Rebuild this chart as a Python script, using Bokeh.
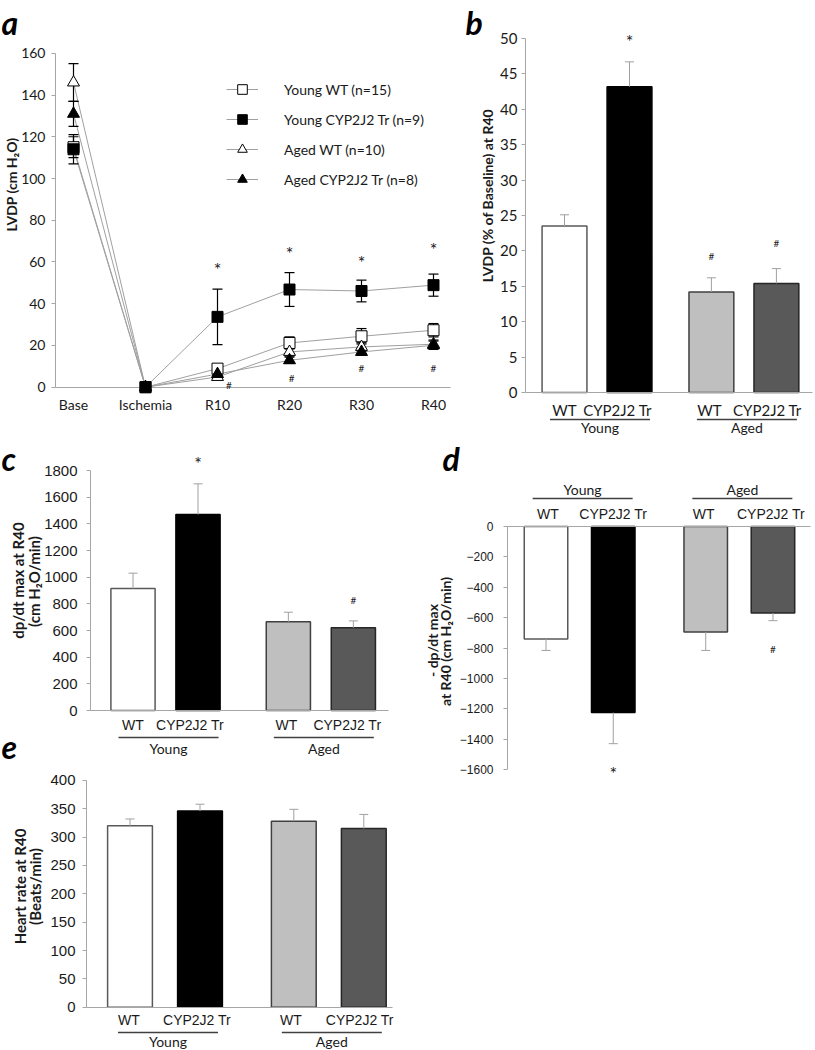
import math
from bokeh.plotting import figure
from bokeh.models import Range1d, FixedTicker, Legend, LegendItem
from bokeh.layouts import row, column
from bokeh.core.properties import value
from bokeh.embed import file_html
from bokeh.resources import INLINE

CAL = "Lato"
ARI = "Liberation Sans"
AX = "#a6a6a6"
INK = "#1a1a1a"
ERR = "#a0a0a0"

# ---------------- Panel a: LVDP time course ----------------
time_points = ["Base", "Ischemia", "R10", "R20", "R30", "R40"]
young_wt = [115, 0, 8.9, 21.2, 24.4, 27.3]
young_wt_err = [5, 0, 1.5, 2.9, 3.7, 3.2]
young_tr = [114, 0, 33.7, 46.8, 46.1, 48.9]
young_tr_err = [7, 0, 13.3, 8.1, 5.2, 5.3]
aged_wt = [146, 0, 4.9, 16.9, 19.3, 20.6]
aged_wt_err = [9, 0, 1.0, 2.0, 2.0, 2.0]
aged_tr = [131, 0, 6.3, 12.9, 16.9, 20.1]
aged_tr_err = [6, 0, 1.0, 1.5, 1.5, 2.0]
series_names = ["Young WT (n=15)", "Young CYP2J2 Tr (n=9)",
                "Aged WT (n=10)", "Aged CYP2J2 Tr (n=8)"]
a_star_y = [None, None, 56.4, 64.1, 60.0, 66.0]
a_hash_y = [None, None, 1.0, 4.2, 9.0, 9.0]
a_hash_dx = [0, 0, 0.16, 0.03, 0, 0]

# ---------------- Bar panels ----------------
genotypes = ["WT", "CYP2J2 Tr", "WT", "CYP2J2 Tr"]
age_groups = ["Young", "Aged"]
bar_fill = ["#ffffff", "#000000", "#bfbfbf", "#595959"]
bar_edge = ["#595959", "#000000", "#404040", "#262626"]

lvdp_pct = [23.5, 43.2, 14.2, 15.4]
lvdp_pct_err = [1.6, 3.5, 2.0, 2.1]
lvdp_pct_sig = ["", "*", "#", "#"]
lvdp_pct_sig_y = [None, 49.7, 19.3, 21.1]

dpdt_max = [915, 1470, 665, 620]
dpdt_max_err = [115, 230, 72, 52]
dpdt_max_sig = ["", "*", "", "#"]
dpdt_max_sig_y = [None, 1856, None, 830]

dpdt_min = [-740, -1225, -695, -570]
dpdt_min_err = [76, 205, 121, 50]
dpdt_min_sig = ["", "*", "", "#"]
dpdt_min_sig_y = [None, -1622, None, -805]

heart_rate = [320, 346, 328, 315]
heart_rate_err = [12, 12, 21, 25]


def make_panel(ox, oy, w, h, x0p, kx, y0p, ky):
    """Full-bleed figure: page pixel (x0p, y0p) is data (0, 0); kx, ky px per unit."""
    xr = Range1d((ox - x0p) / kx, (ox + w - x0p) / kx)
    yr = Range1d((y0p - (oy + h)) / ky, (y0p - oy) / ky)
    p = figure(width=w, height=h, x_range=xr, y_range=yr, min_border=0,
               toolbar_location=None, output_backend="svg", title=None)
    p.outline_line_color = None
    p.grid.visible = False
    p.background_fill_color = "white"
    p.border_fill_color = "white"
    return p, dict(x0p=x0p, kx=kx, y0p=y0p, ky=ky)


def X(m, px):
    return (px - m["x0p"]) / m["kx"]


def Y(m, py):
    return (m["y0p"] - py) / m["ky"]


def letter(p, m, txt, px, py_mid):
    p.text(x=[X(m, px)], y=[Y(m, py_mid)], text=[txt], text_font=value(CAL),
           text_font_style="bold italic", text_font_size="32px", text_color="black",
           text_baseline="middle", text_align="left")


def ytitle(p, m, lines):
    for txt, px, py, size in lines:
        p.text(x=[X(m, px)], y=[Y(m, py)], text=[txt], angle=math.pi / 2,
               text_font=value(CAL), text_font_style="bold", text_font_size=size,
               text_color=INK, text_align="center", text_baseline="middle")


def style_y(p, m, axis_px, ticks, bounds, font, size, lab_standoff, tick_out=4):
    ax = p.yaxis[0]
    ax.fixed_location = X(m, axis_px)
    ax.ticker = FixedTicker(ticks=ticks)
    ax.bounds = bounds
    ax.axis_line_color = AX
    ax.major_tick_line_color = AX
    ax.major_tick_out = tick_out
    ax.major_tick_in = 0
    ax.minor_tick_line_color = None
    ax.major_label_text_font = font
    ax.major_label_text_font_size = size
    ax.major_label_text_color = INK
    ax.major_label_standoff = lab_standoff


def style_x_bar(p, m, left_px, right_px):
    ax = p.xaxis[0]
    ax.fixed_location = 0
    ax.bounds = (X(m, left_px), X(m, right_px))
    ax.ticker = FixedTicker(ticks=[])
    ax.axis_line_color = AX
    ax.axis_line_width = 1
    ax.major_tick_line_color = None
    ax.minor_tick_line_color = None
    ax.major_label_text_font_size = "0px"


def bars(p, m, pos, vals, errs, width, sig, sig_y, lab_font, lab_size,
         sub_py, line_py, grp_py, lab_dx_px):
    p.vbar(x=pos, top=vals, bottom=0, width=width, fill_color=bar_fill,
           line_color=bar_edge, line_width=1.5)
    ends = [v + e if v >= 0 else v - e for v, e in zip(vals, errs)]
    p.segment(x0=pos, y0=vals, x1=pos, y1=ends, line_color=ERR, line_width=1)
    p.scatter(x=pos, y=ends, marker="dash", size=9, line_color=ERR, line_width=1)
    for i, s in enumerate(sig):
        if s:
            p.text(x=[pos[i]], y=[sig_y[i]], text=[s], text_font=value(CAL),
                   text_font_size="18px" if s == "*" else "10px",
                   text_align="center", text_baseline="middle", text_color=INK)
    # genotype labels
    p.text(x=[x + d / m["kx"] for x, d in zip(pos, lab_dx_px)], y=[Y(m, sub_py)] * len(pos),
           text=genotypes, text_font=value(lab_font), text_font_size=lab_size,
           text_color=INK, text_align="center", text_baseline="middle")
    # age-group labels and rules
    centers = [(pos[0] + pos[1]) / 2 + 3 / m["kx"], (pos[2] + pos[3]) / 2 + 3 / m["kx"]]
    half = 50 / m["kx"]
    p.segment(x0=[c - half for c in centers], y0=[Y(m, line_py)] * 2,
              x1=[c + half for c in centers], y1=[Y(m, line_py)] * 2,
              line_color="#404040", line_width=1.3)
    p.text(x=centers, y=[Y(m, grp_py)] * 2, text=age_groups, text_font=value(CAL),
           text_font_size="14px", text_color=INK, text_align="center", text_baseline="middle")


ROW1 = 436

# ================= Panel a =================
pa, ma = make_panel(0, 0, 460, ROW1, 73, 72, 386.7, 2.087)
xa = list(range(len(time_points)))
style_y(pa, ma, 55, list(range(0, 161, 20)), (0, 160), CAL, "14px", 6)
ytitle(pa, ma, [("LVDP (cm H\u2082O)", 11, 184, "14px")])
axa = pa.xaxis[0]
axa.fixed_location = 0
axa.bounds = (X(ma, 55), X(ma, 450))
axa.ticker = FixedTicker(ticks=xa)
axa.major_label_overrides = {i: t for i, t in enumerate(time_points)}
axa.axis_line_color = AX
axa.major_tick_line_color = None
axa.major_tick_out = 0
axa.minor_tick_line_color = None
axa.major_label_standoff = 9
axa.major_label_text_font = CAL
axa.major_label_text_font_size = "14px"
axa.major_label_text_color = INK
axa.level = "underlay"

series = [(young_wt, young_wt_err, "square", "white", 11),
          (young_tr, young_tr_err, "square", "black", 11),
          (aged_wt, aged_wt_err, "triangle", "white", 12),
          (aged_tr, aged_tr_err, "triangle", "black", 12)]
line_rs = []
for vals, errs, mk, fill, sz in series:
    line_rs.append(pa.line(xa, vals, line_color=ERR, line_width=1))
for vals, errs, mk, fill, sz in series:
    ii = [i for i, e in enumerate(errs) if e > 0]
    xs = [xa[i] for i in ii]
    lo = [vals[i] - errs[i] for i in ii]
    hi = [vals[i] + errs[i] for i in ii]
    pa.segment(x0=xs, y0=lo, x1=xs, y1=hi, line_color="black", line_width=1.2)
    pa.scatter(x=xs + xs, y=lo + hi, marker="dash", size=10, line_color="black", line_width=1.2)
items = []
for (vals, errs, mk, fill, sz), lr, name in zip(series, line_rs, series_names):
    sr = pa.scatter(xa, vals, marker=mk, size=sz, fill_color=fill, line_color="black", line_width=1)
    items.append(LegendItem(label=name, renderers=[lr, sr]))

si = [i for i, v in enumerate(a_star_y) if v is not None]
pa.text(x=[xa[i] for i in si], y=[a_star_y[i] for i in si], text=["*"] * len(si),
        text_font=value(CAL), text_font_size="18px", text_align="center",
        text_baseline="middle", text_color=INK)
hi_ = [i for i, v in enumerate(a_hash_y) if v is not None]
pa.text(x=[xa[i] + a_hash_dx[i] for i in hi_], y=[a_hash_y[i] for i in hi_],
        text=["#"] * len(hi_), text_font=value(CAL), text_font_size="10px",
        text_align="center", text_baseline="middle", text_color=INK)

legend = Legend(items=items, location=(226, ROW1 - 191), orientation="vertical",
                glyph_width=32, glyph_height=24, label_height=24, label_standoff=26,
                spacing=6, padding=0, margin=0, border_line_color=None,
                background_fill_alpha=0, label_text_font=CAL,
                label_text_font_size="14px", label_text_color=INK)
pa.add_layout(legend)
letter(pa, ma, "a", 1, 22)

# ================= Panel b =================
pb, mb = make_panel(460, 0, 354, ROW1, 564, 65, 392, 7.08)
style_y(pb, mb, 525, list(range(0, 51, 5)), (0, 50), CAL, "15px", 4)
ytitle(pb, mb, [("LVDP (% of Baseline) at R40", 487, 195, "14px")])
style_x_bar(pb, mb, 525, 812)
pos_b = [0, 1, 2.26, 3.26]
bars(pb, mb, pos_b, lvdp_pct, lvdp_pct_err, 0.69, lvdp_pct_sig, lvdp_pct_sig_y,
     CAL, "15px", 409, 419, 427, [0, -12, -2, -9])
letter(pb, mb, "b", 465, 22)

# ================= Panel c =================
pc, mc = make_panel(0, ROW1, 422, 764 - ROW1, 132.5, 65, 710, 240 / 1800)
style_y(pc, mc, 90, list(range(0, 1801, 200)), (0, 1800), ARI, "15px", 9)
ytitle(pc, mc, [("dp/dt max at R40", 17.5, 580, "15px"),
                ("(cm H\u2082O/min)", 33.5, 581, "15px")])
style_x_bar(pc, mc, 90, 388)
pos_c = [0, 1, 2.39, 3.39]
bars(pc, mc, pos_c, dpdt_max, dpdt_max_err, 0.68, dpdt_max_sig, dpdt_max_sig_y,
     ARI, "14px", 724, 737, 748, [0, -8, -2, -6])
letter(pc, mc, "c", 1, 458)
letter(pc, mc, "e", 1, 746)

# ================= Panel e =================
pe, me = make_panel(0, 764, 422, 286, 129.5, 70, 1006.7, 0.567)
style_y(pe, me, 86, list(range(0, 401, 50)), (0, 400), ARI, "15px", 7)
ytitle(pe, me, [("Heart rate at R40", 19.5, 886, "15px"),
                ("(Beats/min)", 34, 886, "15px")])
style_x_bar(pe, me, 86, 392)
pos_e = [0, 1, 2.34, 3.34]
bars(pe, me, pos_e, heart_rate, heart_rate_err, 0.64, ["", "", "", ""], [None] * 4,
     ARI, "14px", 1019, 1032, 1041, [-1, -3, -3, -4])

# ================= Panel d =================
pd_, md = make_panel(422, ROW1, 392, 790 - ROW1, 545.5, 67.25, 526, 0.151875)
style_y(pd_, md, 507, list(range(-1600, 1, 200)), (-1600, 0), ARI, "12px", 10)
ytitle(pd_, md, [("- dp/dt max", 432, 640, "14px"),
                 ("at R40 (cm H\u2082O/min)", 445, 641, "14px")])
style_x_bar(pd_, md, 507, 810)
pos_d = [0, 1, 2.375, 3.375]
bars(pd_, md, pos_d, dpdt_min, dpdt_min_err, 0.647, dpdt_min_sig, dpdt_min_sig_y,
     ARI, "14px", 513.5, 498, 489, [2, 0, -2, -2])
letter(pd_, md, "d", 442, 458)

layout = column(row(pa, pb), row(column(pc, pe), pd_))
open("out.html", "w").write(file_html(layout, INLINE))
